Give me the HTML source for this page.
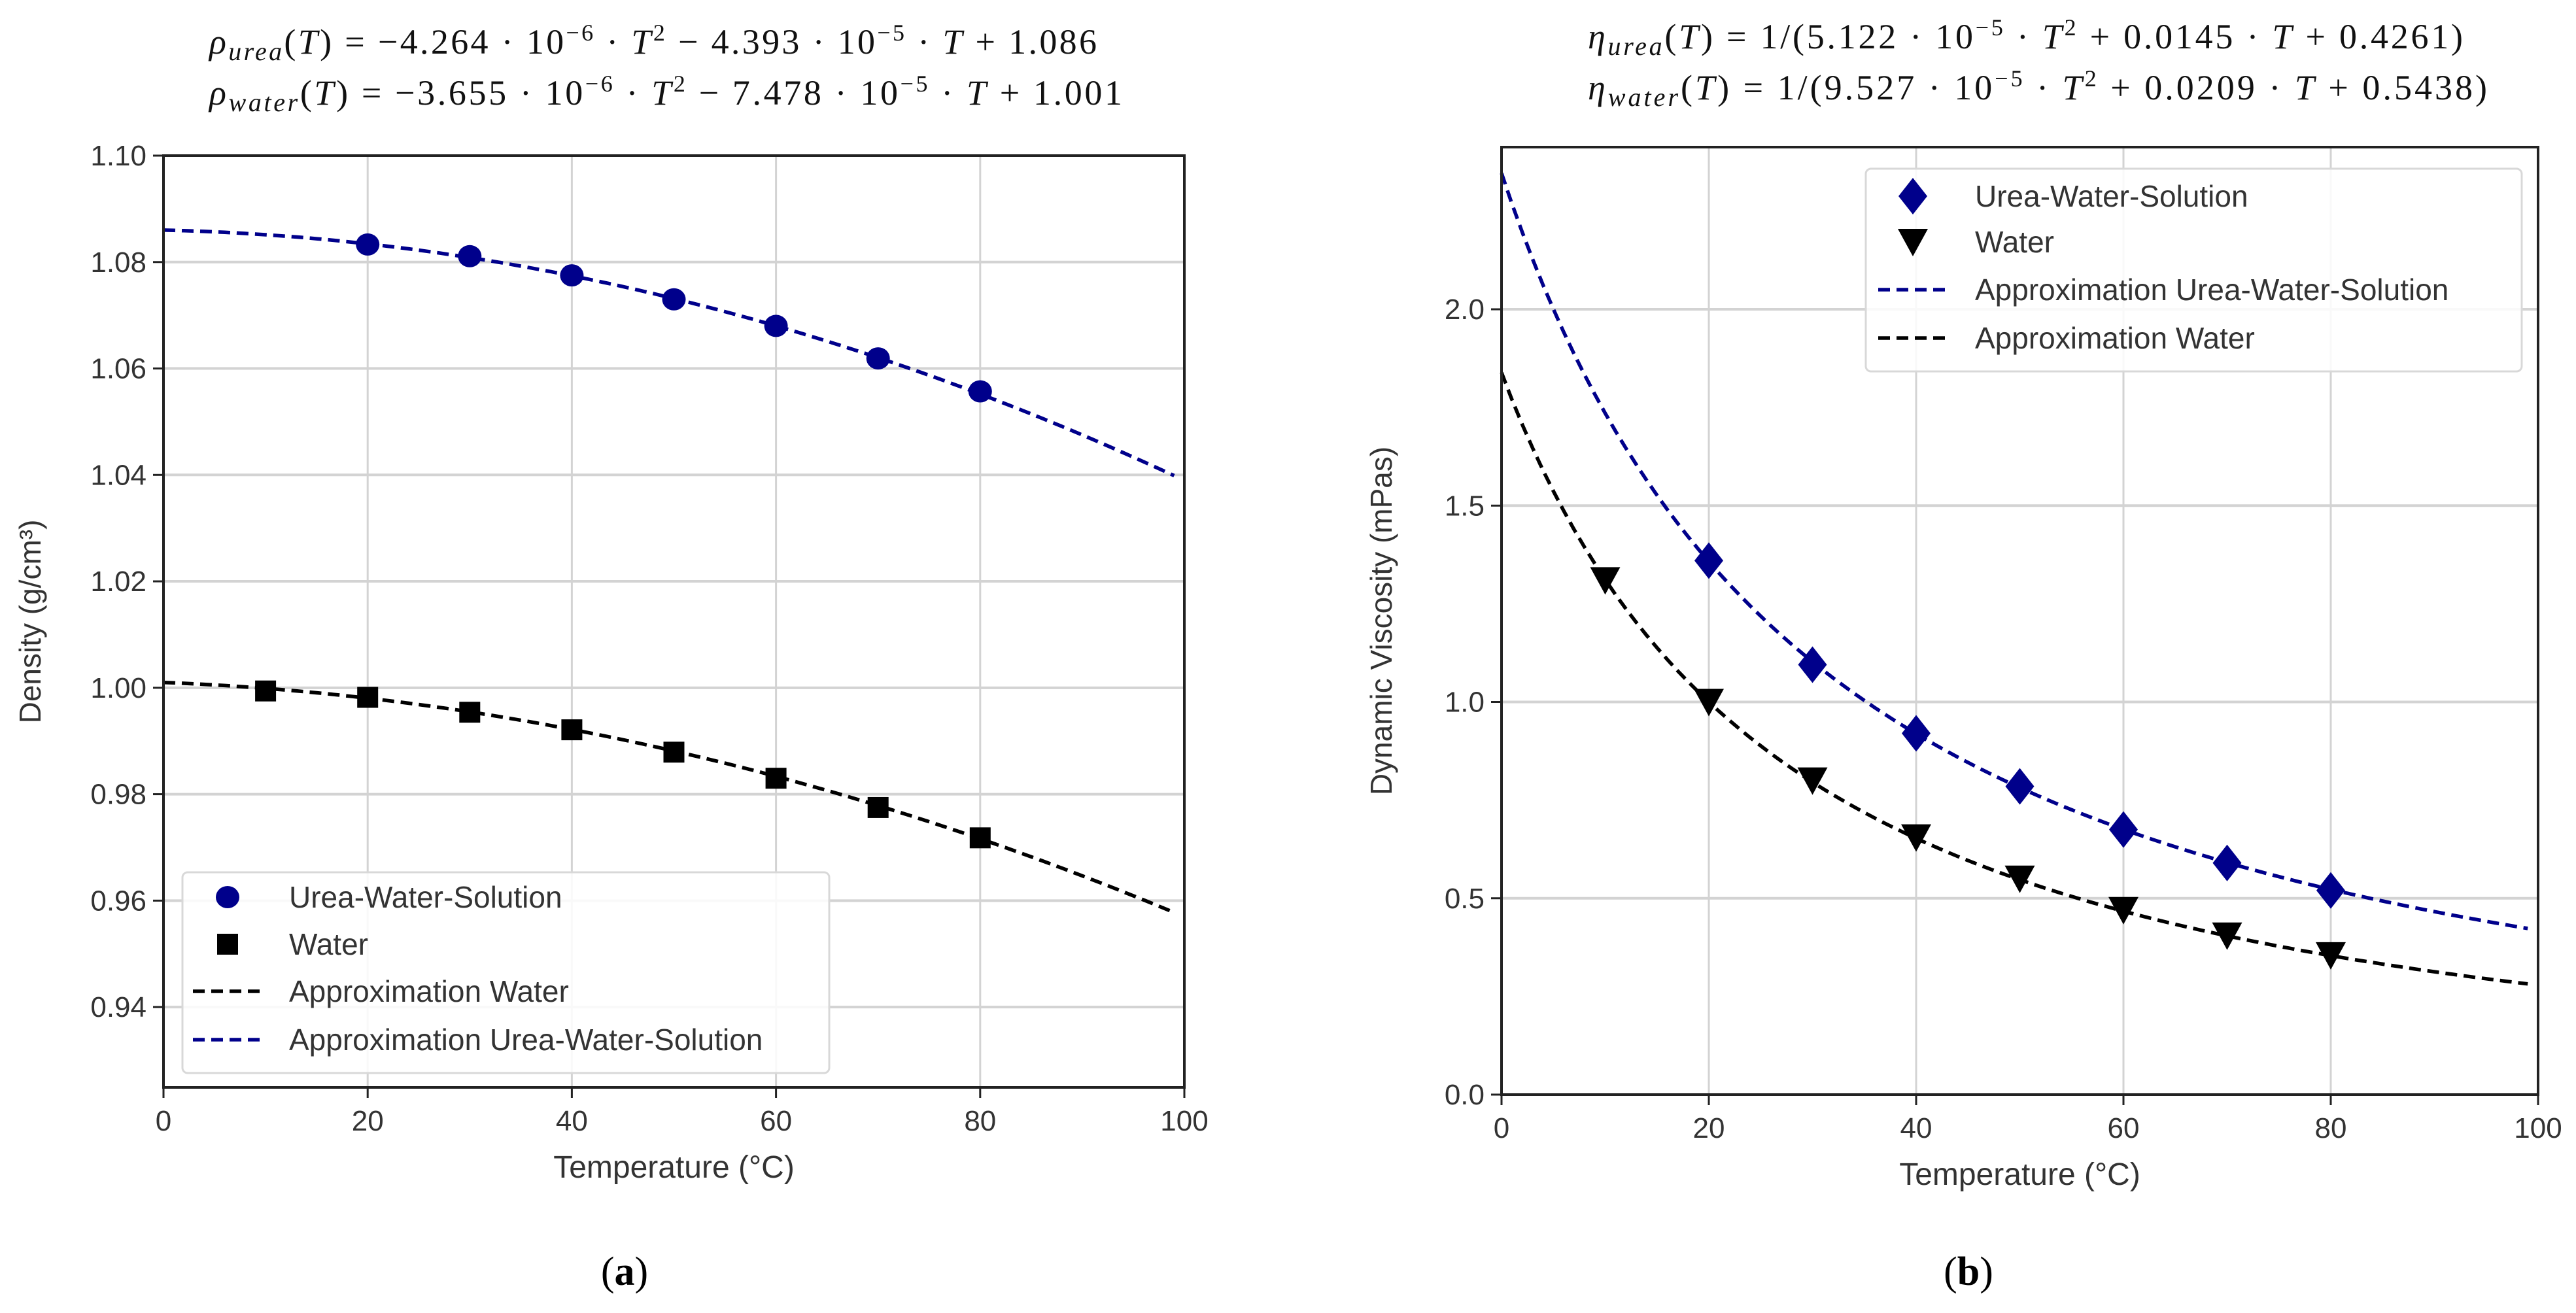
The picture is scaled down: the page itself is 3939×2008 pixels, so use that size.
<!DOCTYPE html>
<html><head><meta charset="utf-8"><style>
html,body{margin:0;padding:0;background:#fff;}
svg{display:block;}
</style></head><body>
<svg id="fig" width="3939" height="2008" viewBox="0 0 3939 2008" xmlns="http://www.w3.org/2000/svg" font-family="Liberation Sans, sans-serif">
<rect width="3939" height="2008" fill="#fff"/>
<g id="eqA" font-family="Liberation Serif, serif" font-size="54" fill="#111">
<text x="320" y="82" textLength="1357" lengthAdjust="spacing"><tspan font-style="italic">ρ</tspan><tspan font-style="italic" font-size="40" dy="10">urea</tspan><tspan dy="-10">(</tspan><tspan font-style="italic">T</tspan>) = −4.264 · 10<tspan font-size="36" dy="-20">−6</tspan><tspan dy="20"> · </tspan><tspan font-style="italic">T</tspan><tspan font-size="36" dy="-20">2</tspan><tspan dy="20"> − 4.393 · 10</tspan><tspan font-size="36" dy="-20">−5</tspan><tspan dy="20"> · </tspan><tspan font-style="italic">T</tspan> + 1.086</text>
<text x="320" y="160" textLength="1396" lengthAdjust="spacing"><tspan font-style="italic">ρ</tspan><tspan font-style="italic" font-size="40" dy="10">water</tspan><tspan dy="-10">(</tspan><tspan font-style="italic">T</tspan>) = −3.655 · 10<tspan font-size="36" dy="-20">−6</tspan><tspan dy="20"> · </tspan><tspan font-style="italic">T</tspan><tspan font-size="36" dy="-20">2</tspan><tspan dy="20"> − 7.478 · 10</tspan><tspan font-size="36" dy="-20">−5</tspan><tspan dy="20"> · </tspan><tspan font-style="italic">T</tspan> +  1.001</text>
</g>
<g id="eqB" font-family="Liberation Serif, serif" font-size="54" fill="#111">
<text x="2428" y="74" textLength="1338" lengthAdjust="spacing"><tspan font-style="italic">η</tspan><tspan font-style="italic" font-size="40" dy="10">urea</tspan><tspan dy="-10">(</tspan><tspan font-style="italic">T</tspan>) = 1/(5.122 · 10<tspan font-size="36" dy="-20">−5</tspan><tspan dy="20"> · </tspan><tspan font-style="italic">T</tspan><tspan font-size="36" dy="-20">2</tspan><tspan dy="20"> + 0.0145 · </tspan><tspan font-style="italic">T</tspan> + 0.4261)</text>
<text x="2428" y="152" textLength="1375" lengthAdjust="spacing"><tspan font-style="italic">η</tspan><tspan font-style="italic" font-size="40" dy="10">water</tspan><tspan dy="-10">(</tspan><tspan font-style="italic">T</tspan>) = 1/(9.527 · 10<tspan font-size="36" dy="-20">−5</tspan><tspan dy="20"> · </tspan><tspan font-style="italic">T</tspan><tspan font-size="36" dy="-20">2</tspan><tspan dy="20"> + 0.0209 · </tspan><tspan font-style="italic">T</tspan> +  0.5438)</text>
</g>
<g id="chartA"></g>
<g id="chartB"></g>
<text x="955" y="1965" font-family="Liberation Serif, serif" font-size="62" text-anchor="middle">(<tspan font-weight="bold">a</tspan>)</text>
<text x="3010" y="1965" font-family="Liberation Serif, serif" font-size="62" text-anchor="middle">(<tspan font-weight="bold">b</tspan>)</text>
</svg>
<script>
// ---- data ----
const tempsUreaA = [20,30,40,50,60,70,80];
const densityUrea = [1.0833,1.0811,1.0775,1.0730,1.0680,1.0619,1.0557];
const tempsWaterA = [10,20,30,40,50,60,70,80];
const densityWater = [0.9994,0.9982,0.9954,0.9921,0.9879,0.9830,0.9775,0.9718];
const coefDensUrea = [-4.264e-6,-4.393e-5,1.086];
const coefDensWater = [-3.655e-6,-7.478e-5,1.001];
const tempsUreaB = [20,30,40,50,60,70,80];
const viscUrea = [1.36,1.095,0.92,0.785,0.675,0.59,0.52];
const tempsWaterB = [10,20,30,40,50,60,70,80];
const viscWater = [1.31,1.0,0.80,0.655,0.55,0.47,0.405,0.355];
const coefViscUrea = [5.122e-5,0.0145,0.4261];
const coefViscWater = [9.527e-5,0.0209,0.5438];
const xTicks = [0,20,40,60,80,100];
const yTicksA = [0.94,0.96,0.98,1.00,1.02,1.04,1.06,1.08,1.10];
const yTicksB = [0.0,0.5,1.0,1.5,2.0];

const NS='http://www.w3.org/2000/svg';
function mk(parent,tag,attrs,text){const e=document.createElementNS(NS,tag);for(const k in attrs)e.setAttribute(k,attrs[k]);if(text!==undefined)e.textContent=text;parent.appendChild(e);return e;}
const BLUE='#00008b';

function drawChart(g,cfg){
  const {L,R,T,B,xmin,xmax,ymin,ymax}=cfg;
  const sx=v=>L+(v-xmin)/(xmax-xmin)*(R-L);
  const sy=v=>B-(v-ymin)/(ymax-ymin)*(B-T);
  xTicks.forEach(t=>{
    const l=mk(g,'line',{x1:sx(t),x2:sx(t),y1:T,y2:B,stroke:'#d3d3d3','stroke-width':3});
    
    
    const tk=mk(g,'line',{x1:sx(t),x2:sx(t),y1:B,y2:B+16,stroke:'#222','stroke-width':3});
    
    
    const tx=mk(g,'text',{x:sx(t),y:B+66,'font-size':44,'text-anchor':'middle',fill:'#333'},String(t));
    
    
  });
  cfg.yTicks.forEach(t=>{
    const l=mk(g,'line',{x1:L,x2:R,y1:sy(t),y2:sy(t),stroke:'#d3d3d3','stroke-width':4});
    
    
    const tk=mk(g,'line',{x1:L-16,x2:L,y1:sy(t),y2:sy(t),stroke:'#222','stroke-width':3});
    
    
    const tx=mk(g,'text',{x:L-26,y:sy(t)+15,'font-size':44,'text-anchor':'end',fill:'#333'},t.toFixed(cfg.dec));
    
    
  });
  cfg.curves.forEach(c=>{
    let d='';
    for(let i=0;i<=99;i++){const v=c.f(i);d+=(i?'L':'M')+sx(i).toFixed(1)+','+sy(v).toFixed(1);}
    const p=mk(g,'path',{d:d,fill:'none',stroke:c.color,'stroke-width':5.5,'stroke-dasharray':'18,10'});
    
    
  });
  cfg.series.forEach(s=>{
    s.xs.forEach((x,i)=>{
      const m=drawMarker(g,s.shape,sx(x),sy(s.ys[i]),s.color);
      
      
    });
  });
  const fr=mk(g,'rect',{x:L,y:T,width:R-L,height:B-T,fill:'none',stroke:'#222','stroke-width':4});
  
  
  const xl=mk(g,'text',{x:(L+R)/2,y:B+138,'font-size':48,'text-anchor':'middle',fill:'#333'},'Temperature (°C)');
  
  
  const yl=mk(g,'text',{x:0,y:0,'font-size':46,'text-anchor':'middle',fill:'#333',transform:`translate(${cfg.ylx},${(T+B)/2}) rotate(-90)`},cfg.ylabel);
  
  
  return {sx,sy};
}
function drawMarker(g,shape,x,y,color){
  if(shape==='circle') return mk(g,'ellipse',{cx:x,cy:y,rx:18,ry:17,fill:color});
  if(shape==='square') return mk(g,'rect',{x:x-16,y:y-16,width:32,height:32,fill:color});
  if(shape==='diamond') return mk(g,'polygon',{points:`${x},${y-28} ${x+22},${y} ${x},${y+28} ${x-22},${y}`,fill:color});
  return mk(g,'polygon',{points:`${x-23},${y-20} ${x+23},${y-20} ${x},${y+22}`,fill:color});
}
function drawLegend(g,box,entries){
  const r=mk(g,'rect',{x:box.x,y:box.y,width:box.w,height:box.h,rx:8,fill:'rgba(255,255,255,0.85)',stroke:'#d8d8d8','stroke-width':3});
  
  
  entries.forEach(e=>{
    let m;
    if(e.shape==='line') m=mk(g,'line',{x1:box.lx1,x2:box.lx2,y1:e.y,y2:e.y,stroke:e.color,'stroke-width':5.5,'stroke-dasharray':'18,10'});
    else m=drawMarker(g,e.shape,box.mx,e.y,e.color);
    
    
    const t=mk(g,'text',{x:box.tx,y:e.y+16,'font-size':46,fill:'#333'},e.label);
    
    
  });
}
const quad=c=>T=>c[0]*T*T+c[1]*T+c[2];
const inv=c=>T=>1/(c[0]*T*T+c[1]*T+c[2]);

const gA=document.getElementById('chartA');
drawChart(gA,{L:250,R:1811,T:238,B:1663,xmin:0,xmax:100,ymin:0.9249,ymax:1.10,yTicks:yTicksA,dec:2,ylx:62,ylabel:'Density (g/cm³)',
  curves:[{f:quad(coefDensUrea),color:BLUE,name:'fit-urea-line'},{f:quad(coefDensWater),color:'#000',name:'fit-water-line'}],
  series:[{xs:tempsUreaA,ys:densityUrea,shape:'circle',color:BLUE,name:'urea-point'},{xs:tempsWaterA,ys:densityWater,shape:'square',color:'#000',name:'water-point'}]});
drawLegend(gA,{x:279,y:1334,w:989,h:307,mx:348,lx1:295,lx2:399,tx:442},[
  {shape:'circle',color:BLUE,y:1372,label:'Urea-Water-Solution'},
  {shape:'square',color:'#000',y:1444,label:'Water'},
  {shape:'line',color:'#000',y:1516,label:'Approximation Water'},
  {shape:'line',color:BLUE,y:1590,label:'Approximation Urea-Water-Solution'}]);

const gB=document.getElementById('chartB');
drawChart(gB,{L:2296,R:3881,T:225,B:1674,xmin:0,xmax:100,ymin:0,ymax:2.413,yTicks:yTicksB,dec:1,ylx:2128,ylabel:'Dynamic Viscosity (mPas)',
  curves:[{f:inv(coefViscUrea),color:BLUE,name:'fit-urea-line'},{f:inv(coefViscWater),color:'#000',name:'fit-water-line'}],
  series:[{xs:tempsUreaB,ys:viscUrea,shape:'diamond',color:BLUE,name:'urea-point'},{xs:tempsWaterB,ys:viscWater,shape:'triangle',color:'#000',name:'water-point'}]});
drawLegend(gB,{x:2853,y:258,w:1003,h:310,mx:2925,lx1:2872,lx2:2975,tx:3020},[
  {shape:'diamond',color:BLUE,y:300,label:'Urea-Water-Solution'},
  {shape:'triangle',color:'#000',y:370,label:'Water'},
  {shape:'line',color:BLUE,y:443,label:'Approximation Urea-Water-Solution'},
  {shape:'line',color:'#000',y:517,label:'Approximation Water'}]);
</script>
</body></html>
